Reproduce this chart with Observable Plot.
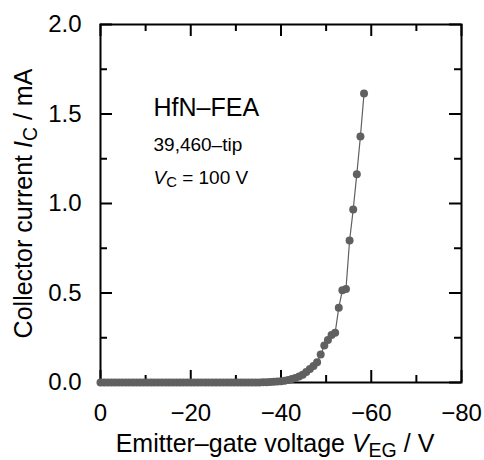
<!DOCTYPE html>
<html><head><meta charset="utf-8">
<script src="https://cdn.jsdelivr.net/npm/d3@7"></script>
<script src="https://cdn.jsdelivr.net/npm/@observablehq/plot@0.6"></script>
<style>body{margin:0;background:#fff} svg{display:block}</style>
</head><body><div id="chart"></div>
<script>
// Emitter-gate voltage (V)
const voltage = [0,-0.8,-1.6,-2.4,-3.2,-4.0,-4.8,-5.6,-6.4,-7.2,-8.0,-8.8,-9.6,-10.4,-11.2,-12.0,-12.8,-13.6,-14.4,-15.2,-16.0,-16.8,-17.6,-18.4,-19.2,-20.0,-20.8,-21.6,-22.4,-23.2,-24.0,-24.8,-25.6,-26.4,-27.2,-28.0,-28.8,-29.6,-30.4,-31.2,-32.0,-32.8,-33.6,-34.4,-35.2,-36.0,-36.8,-37.6,-38.4,-39.2,-40.0,-40.8,-41.6,-42.4,-43.2,-44.0,-44.8,-45.6,-46.4,-47.2,-48.0,-48.8,-49.6,-50.4,-51.2,-52.0,-52.8,-53.6,-54.4,-55.2,-56.0,-56.8,-57.6,-58.4];
// Collector current (mA)
const current = [0,0,0,0,0,0,0,0,0,0,0,0,0,0,0,0,0,0,0,0,0,0,0,0,0,0,0,0,0,0,0,0,0,0,0,0,0,0,0,0,0,0,0,0,0,0.001,0.002,0.003,0.004,0.005,0.007,0.010,0.014,0.019,0.025,0.033,0.043,0.058,0.075,0.092,0.113,0.156,0.207,0.238,0.265,0.278,0.417,0.516,0.522,0.793,0.966,1.164,1.374,1.615];

const xMajorTicks = [0,-20,-40,-60,-80];
const xMinorTicks = [-10,-30,-50,-70];
const yMajorTicks = [0,0.5,1.0,1.5,2.0];
const yMinorTicks = [0.25,0.75,1.25,1.75];

const xLabelParts = [{text:"Emitter–gate voltage "},{text:"V",italic:true},{text:"EG",sub:true},{text:" / V"}];
const yLabelParts = [{text:"Collector current "},{text:"I",italic:true},{text:"C",sub:true},{text:" / mA"}];
const note1 = "HfN–FEA";
const note2 = "39,460–tip";
const note3Parts = [{text:"V",italic:true},{text:"C",sub:true},{text:" = 100 V"}];

const data = voltage.map((v,i)=>({V:v, I:current[i]}));

const W=484, H=460, ML=100, MR=23, MT=24, MB=78;
const PW=W-ML-MR, PH=H-MT-MB;
const MAJ=12, MIN=7, INK="#000", GRAY="#606060";
const plain = parts => parts.map(p=>p.text).join("");

const svg = Plot.plot({
  width:W, height:H, marginLeft:ML, marginRight:MR, marginTop:MT, marginBottom:MB,
  style:{fontFamily:"'Liberation Sans', Arial, sans-serif", background:"#fff", color:"#000"},
  x:{domain:[0,-80]},
  y:{domain:[0,2]},
  marks:[
    Plot.frame({stroke:INK, strokeWidth:2}),
    Plot.ruleX(xMajorTicks,{x:d=>d, insetTop:PH-MAJ, stroke:INK, strokeWidth:2}),
    Plot.ruleX(xMinorTicks,{x:d=>d, insetTop:PH-MIN, stroke:INK, strokeWidth:2}),
    Plot.ruleX(xMajorTicks,{x:d=>d, insetBottom:PH-MAJ, stroke:INK, strokeWidth:2}),
    Plot.ruleX(xMinorTicks,{x:d=>d, insetBottom:PH-MIN, stroke:INK, strokeWidth:2}),
    Plot.ruleY(yMajorTicks,{y:d=>d, insetRight:PW-MAJ, stroke:INK, strokeWidth:2}),
    Plot.ruleY(yMinorTicks,{y:d=>d, insetRight:PW-MIN, stroke:INK, strokeWidth:2}),
    Plot.ruleY(yMajorTicks,{y:d=>d, insetLeft:PW-MAJ, stroke:INK, strokeWidth:2}),
    Plot.ruleY(yMinorTicks,{y:d=>d, insetLeft:PW-MIN, stroke:INK, strokeWidth:2}),
    Plot.axisX(xMajorTicks,{tickSize:0, tickPadding:21, fontSize:24, label:null}),
    Plot.axisY(yMajorTicks,{tickSize:0, tickPadding:19, fontSize:24, label:null, tickFormat:d3.format(".1f")}),
    Plot.line(data,{x:"V", y:"I", stroke:GRAY, strokeWidth:1.2}),
    Plot.dot(data,{x:"V", y:"I", r:4, fill:GRAY, stroke:"none"}),
    Plot.text([plain(xLabelParts)],{frameAnchor:"bottom", dx:-6, dy:69, textAnchor:"middle", lineAnchor:"bottom", fontSize:25, fill:INK}),
    Plot.text([plain(yLabelParts)],{frameAnchor:"left", dx:-77, dy:0, rotate:-90, textAnchor:"middle", lineAnchor:"middle", fontSize:25, fill:INK}),
    Plot.text([note1],{frameAnchor:"top-left", dx:53, dy:91, textAnchor:"start", lineAnchor:"bottom", fontSize:25, fill:INK}),
    Plot.text([note2],{frameAnchor:"top-left", dx:53, dy:126, textAnchor:"start", lineAnchor:"bottom", fontSize:19, fill:INK}),
    Plot.text([plain(note3Parts)],{frameAnchor:"top-left", dx:53, dy:159, textAnchor:"start", lineAnchor:"bottom", fontSize:19, fill:INK})
  ]
});

const NS="http://www.w3.org/2000/svg";
function rich(parts, fs){
  const s = plain(parts);
  const t = [...svg.querySelectorAll("text")].find(e=>e.textContent===s);
  if(!t) return;
  t.textContent="";
  const shift = Math.round(fs*0.18);
  let down = false;
  for(const p of parts){
    const ts=document.createElementNS(NS,"tspan");
    ts.textContent=p.text;
    if(p.italic) ts.setAttribute("font-style","italic");
    if(p.sub){ts.setAttribute("dy", shift); ts.setAttribute("font-size", fs*0.78); down=true;}
    else if(down){ts.setAttribute("dy", -shift); down=false;}
    t.appendChild(ts);
  }
}
rich(xLabelParts, 25);
rich(yLabelParts, 25);
rich(note3Parts, 19);
document.getElementById("chart").appendChild(svg);
</script></body></html>
